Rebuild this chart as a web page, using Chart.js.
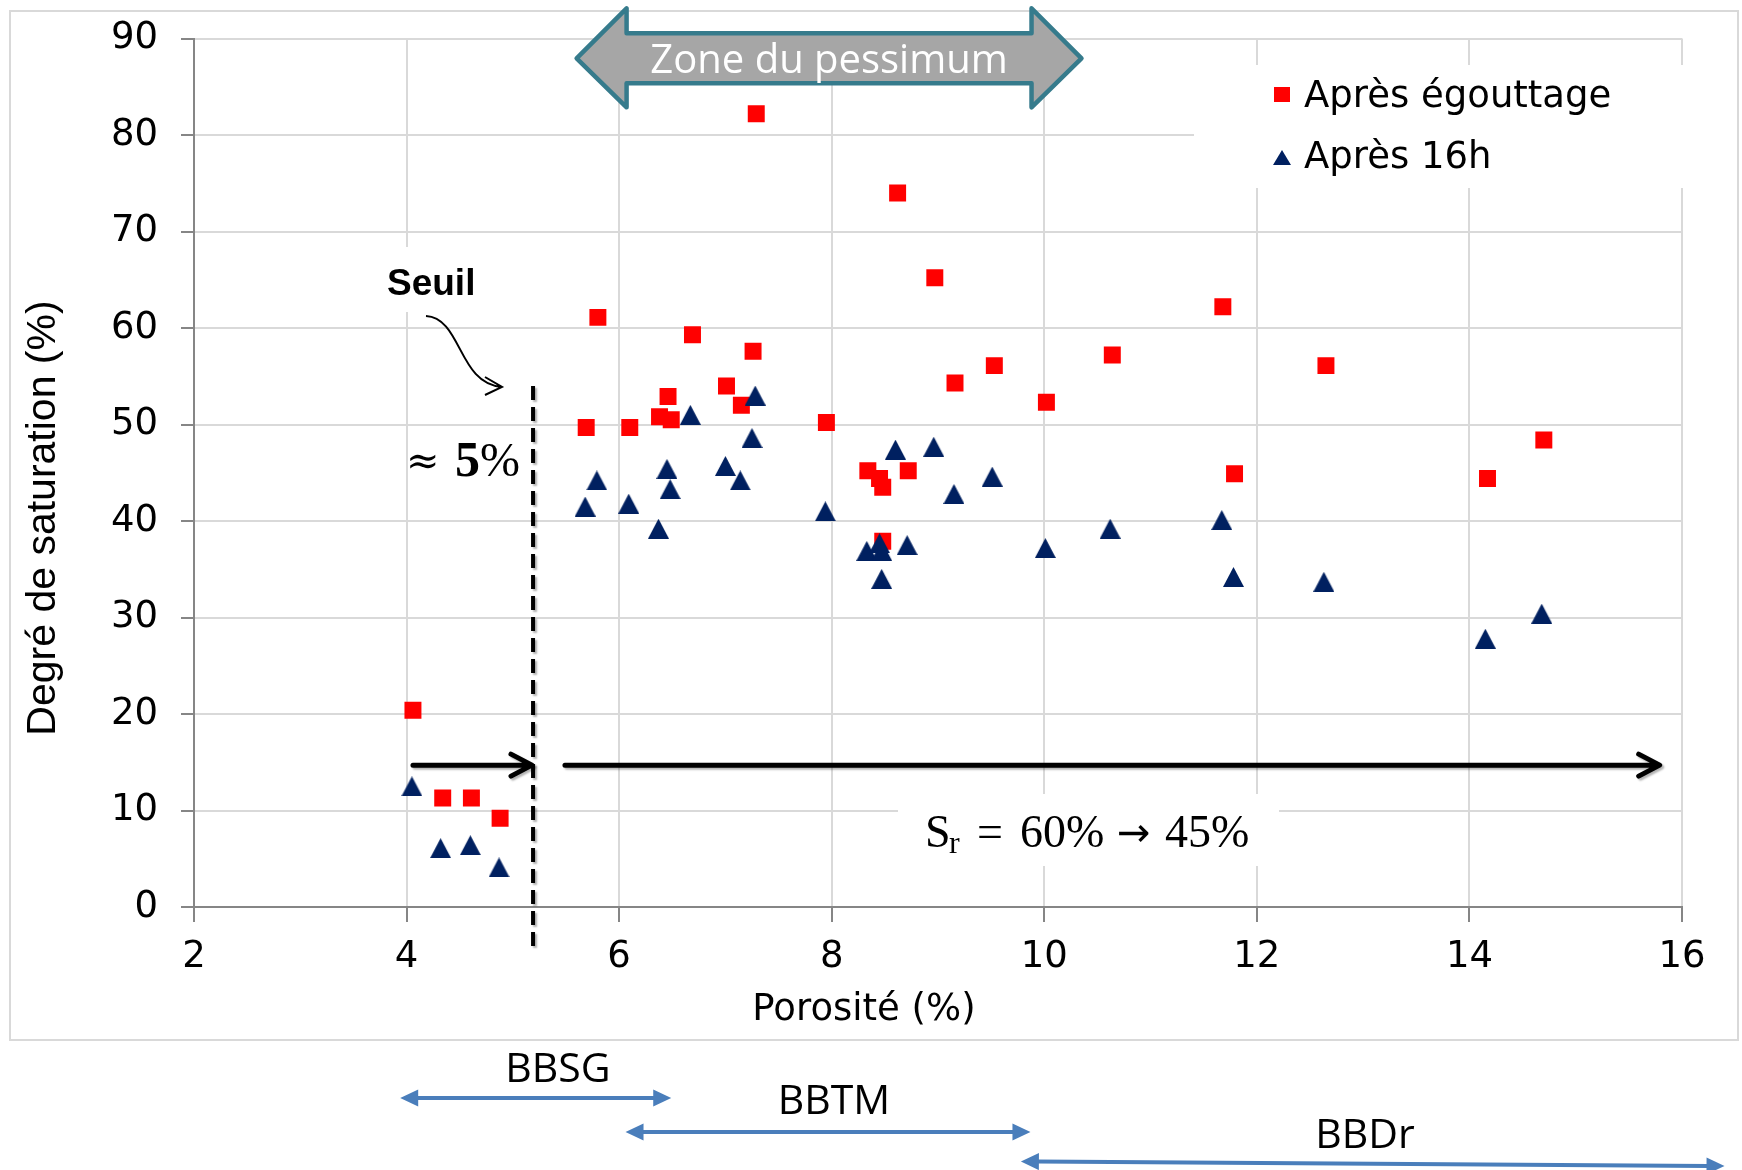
<!DOCTYPE html>
<html>
<head>
<meta charset="utf-8">
<script src="https://cdn.jsdelivr.net/npm/chart.js@4/dist/chart.umd.min.js"></script>
<style>
  html, body { margin: 0; padding: 0; background: #fff; }
  canvas { display: block; }
</style>
</head>
<body>
<canvas id="chart" width="1742" height="1170"></canvas>
<script>
// Après égouttage (red squares)
const porositeEgouttage = [4.06, 4.34, 4.61, 4.88, 5.69, 5.80, 6.10, 6.38, 6.46, 6.49, 6.69, 7.01, 7.15, 7.26, 7.29, 7.95,
  8.34, 8.45, 8.48, 8.48, 8.62, 8.72, 8.97, 9.16, 9.53, 10.02, 10.64, 11.68, 11.79, 12.65, 14.17, 14.70];
const saturationEgouttage = [20.4, 11.3, 11.3, 9.2, 49.7, 61.1, 49.7, 50.8, 52.9, 50.5, 59.3, 54.0, 52.0, 57.6, 82.2, 50.2,
  45.2, 44.4, 43.5, 37.9, 74.0, 45.2, 65.2, 54.3, 56.1, 52.3, 57.2, 62.2, 44.9, 56.1, 44.4, 48.4];

// Après 16h (navy triangles)
const porosite16h = [4.05, 4.32, 4.60, 4.87, 5.68, 5.79, 6.09, 6.37, 6.45, 6.48, 6.67, 7.00, 7.14, 7.25, 7.28, 7.94,
  8.33, 8.45, 8.47, 8.47, 8.60, 8.71, 8.96, 9.15, 9.51, 10.01, 10.62, 11.67, 11.78, 12.63, 14.15, 14.68];
const saturation16h = [12.5, 6.1, 6.4, 4.1, 41.5, 44.2, 41.8, 39.2, 45.4, 43.3, 51.0, 45.7, 44.2, 48.6, 53.0, 41.0,
  36.9, 37.7, 36.9, 34.0, 47.4, 37.5, 47.7, 42.8, 44.6, 37.2, 39.2, 40.1, 34.2, 33.7, 27.8, 30.4];

const seriesLabels = ['Après égouttage', 'Après 16h'];

// annotations, in porosity / saturation units
const seuil = 5.19;
const seuilLine = [54, -4.2];
const arrowLevel = 14.7;
const arrowsSr = [[4.06, 5.18], [5.49, 15.79]];
const zonePessimum = [5.6, 6.07, 9.88, 10.35];
const familles = [
  { label: 'BBSG', from: 3.94, to: 6.49 },
  { label: 'BBTM', from: 6.06, to: 9.87 },
  { label: 'BBDr', from: 9.78, to: 16.4 },
];

const RED = '#ff0000';
const NAVY = '#002060';
const GRID = '#d9d9d9';
const AXIS = '#868686';

const toPoints = (xs, ys) => xs.map((x, i) => ({ x, y: ys[i] }));

// Excel-like triangle, centred on its bounding box
function triangleImage(w, h) {
  const c = document.createElement('canvas');
  c.width = w;
  c.height = h;
  const g = c.getContext('2d');
  g.fillStyle = NAVY;
  g.beginPath();
  g.moveTo(w / 2, 0);
  g.lineTo(w, h);
  g.lineTo(0, h);
  g.closePath();
  g.fill();
  return c;
}
const triangle = triangleImage(21, 20);
const triangleSmall = triangleImage(18, 15);

function text(ctx, str, x, y, font, color, align) {
  ctx.font = font;
  ctx.fillStyle = color || '#000';
  ctx.textAlign = align || 'left';
  ctx.textBaseline = 'alphabetic';
  ctx.fillText(str, x, y);
}

function blueRange(ctx, xa, ya, xb, yb) {
  const len = Math.hypot(xb - xa, yb - ya);
  ctx.save();
  ctx.translate(xa, ya);
  ctx.rotate(Math.atan2(yb - ya, xb - xa));
  ctx.fillStyle = '#4a7ebb';
  ctx.fillRect(16, -2, len - 32, 4);
  ctx.beginPath();
  ctx.moveTo(0, 0); ctx.lineTo(18, -8.5); ctx.lineTo(18, 8.5); ctx.closePath();
  ctx.moveTo(len, 0); ctx.lineTo(len - 18, -8.5); ctx.lineTo(len - 18, 8.5); ctx.closePath();
  ctx.fill();
  ctx.restore();
}

const decorations = {
  id: 'decorations',
  beforeDraw(chart) {
    const { ctx } = chart;
    ctx.save();
    ctx.fillStyle = '#fff';
    ctx.fillRect(0, 0, chart.width, chart.height);
    ctx.strokeStyle = GRID;
    ctx.lineWidth = 2;
    ctx.strokeRect(10, 11, 1728, 1029);
    ctx.restore();
  },
  beforeDatasetsDraw(chart) {
    // white text boxes hiding the grid
    const { ctx } = chart;
    ctx.save();
    ctx.fillStyle = '#fff';
    ctx.fillRect(1194, 65, 506, 123); // legend
    ctx.fillRect(372, 247, 116, 65); // Seuil
    ctx.fillRect(898, 794, 381, 72); // Sr
    ctx.restore();
  },
  afterDraw(chart) {
    const { ctx } = chart;
    const x = chart.scales.x;
    const y = chart.scales.y;
    ctx.save();

    // axis titles
    text(ctx, 'Porosité (%)', 864, 1020, '37px "DejaVu Sans"', '#000', 'center');
    ctx.save();
    ctx.translate(55, 518);
    ctx.rotate(-Math.PI / 2);
    text(ctx, 'Degré de saturation (%)', 0, 0, '41px "Liberation Sans"', '#000', 'center');
    ctx.restore();

    // legend
    ctx.fillStyle = RED;
    ctx.fillRect(1274, 87, 16, 15);
    ctx.drawImage(triangleSmall, 1273, 150);
    text(ctx, seriesLabels[0], 1304, 107, '37px "DejaVu Sans"');
    text(ctx, seriesLabels[1], 1304, 168, '37px "DejaVu Sans"');

    // threshold line
    const xs = x.getPixelForValue(seuil);
    ctx.save();
    ctx.shadowColor = 'rgba(0,0,0,0.3)';
    ctx.shadowOffsetX = 2;
    ctx.shadowOffsetY = 2;
    ctx.shadowBlur = 2;
    ctx.strokeStyle = '#000';
    ctx.lineWidth = 4;
    ctx.setLineDash([14, 7]);
    ctx.beginPath();
    ctx.moveTo(xs, y.getPixelForValue(seuilLine[0]));
    ctx.lineTo(xs, y.getPixelForValue(seuilLine[1]));
    ctx.stroke();
    ctx.setLineDash([]);

    // horizontal arrows
    const ya = y.getPixelForValue(arrowLevel);
    ctx.lineWidth = 5;
    ctx.lineCap = 'round';
    ctx.lineJoin = 'round';
    arrowsSr.forEach(([from, to]) => {
      const x1 = x.getPixelForValue(from);
      const x2 = x.getPixelForValue(to);
      ctx.beginPath();
      ctx.moveTo(x1, ya);
      ctx.lineTo(x2 - 2, ya);
      ctx.moveTo(x2 - 21, ya - 11);
      ctx.lineTo(x2, ya);
      ctx.lineTo(x2 - 21, ya + 11);
      ctx.stroke();
    });
    ctx.restore();

    // Seuil label with curved arrow
    text(ctx, 'Seuil', 387, 295, 'bold 37px "Liberation Sans"');
    ctx.strokeStyle = '#000';
    ctx.lineWidth = 2;
    ctx.beginPath();
    ctx.moveTo(426, 316);
    ctx.bezierCurveTo(462, 318, 458, 384, 502, 387);
    ctx.moveTo(485, 377);
    ctx.lineTo(502, 387);
    ctx.lineTo(485, 395);
    ctx.stroke();

    // ≈ 5%
    text(ctx, '≈', 406, 474, '40px "DejaVu Serif"');
    text(ctx, '5', 455, 476, 'bold 50px "Liberation Serif"');
    text(ctx, '%', 480, 476, '48px "Liberation Serif"');

    // Sr = 60% → 45%
    const serif = '46px "Liberation Serif"';
    text(ctx, 'S', 925, 847, serif);
    text(ctx, 'r', 949, 853, '32px "Liberation Serif"');
    text(ctx, '=', 977, 847, serif);
    text(ctx, '60%', 1020, 847, serif);
    text(ctx, '→', 1117, 846, '40px "DejaVu Sans"');
    text(ctx, '45%', 1165, 847, serif);

    // Zone du pessimum
    const [t1, n1, n2, t2] = zonePessimum.map((v) => x.getPixelForValue(v));
    ctx.beginPath();
    ctx.moveTo(t1, 58.3);
    ctx.lineTo(n1, 8.3);
    ctx.lineTo(n1, 33.3);
    ctx.lineTo(n2, 33.3);
    ctx.lineTo(n2, 8.3);
    ctx.lineTo(t2, 58.3);
    ctx.lineTo(n2, 107.3);
    ctx.lineTo(n2, 83.3);
    ctx.lineTo(n1, 83.3);
    ctx.lineTo(n1, 107.3);
    ctx.closePath();
    ctx.fillStyle = '#a6a6a6';
    ctx.fill();
    ctx.strokeStyle = '#367b8c';
    ctx.lineWidth = 4.5;
    ctx.lineJoin = 'round';
    ctx.stroke();
    text(ctx, 'Zone du pessimum', (t1 + t2) / 2, 73, '40px "Open Sans"', '#fff', 'center');

    // asphalt families below the chart
    const rows = [[1098, 1098], [1132, 1132], [1161.5, 1166]];
    familles.forEach((f, i) => {
      blueRange(ctx, x.getPixelForValue(f.from), rows[i][0], x.getPixelForValue(f.to), rows[i][1]);
    });
    text(ctx, familles[0].label, 558, 1082, '41px "Open Sans"', '#000', 'center');
    text(ctx, familles[1].label, 834, 1114, '41px "Open Sans"', '#000', 'center');
    text(ctx, familles[2].label, 1365, 1148, '41px "Open Sans"', '#000', 'center');

    ctx.restore();
  },
};

new Chart(document.getElementById('chart'), {
  type: 'scatter',
  data: {
    datasets: [
      {
        label: seriesLabels[1],
        data: toPoints(porosite16h, saturation16h),
        pointStyle: triangle,
        order: 1,
      },
      {
        label: seriesLabels[0],
        data: toPoints(porositeEgouttage, saturationEgouttage),
        pointStyle: 'rect',
        pointRadius: 12,
        pointBackgroundColor: RED,
        pointBorderWidth: 0,
        order: 2,
      },
    ],
  },
  options: {
    responsive: false,
    animation: false,
    devicePixelRatio: 1,
    layout: { padding: { left: 0, top: 38.5, right: 60, bottom: 0 } },
    plugins: {
      legend: { display: false },
      tooltip: { enabled: false },
    },
    scales: {
      x: {
        type: 'linear',
        min: 2,
        max: 16,
        afterFit(scale) { scale.height = 263; },
        ticks: {
          stepSize: 2,
          padding: 13,
          color: '#000',
          font: { family: 'DejaVu Sans', size: 37 },
        },
        grid: { color: GRID, lineWidth: 2, tickColor: AXIS, tickWidth: 2, tickLength: 15 },
        border: { color: AXIS, width: 2 },
      },
      y: {
        type: 'linear',
        min: 0,
        max: 90,
        afterFit(scale) {
          scale.width = 194;
          scale.paddingTop = 0; // let layout.padding set the plot top
          scale.paddingBottom = 0;
        },
        ticks: {
          stepSize: 10,
          padding: 23,
          color: '#000',
          font: { family: 'DejaVu Sans', size: 37 },
        },
        grid: { color: GRID, lineWidth: 2, tickColor: AXIS, tickWidth: 2, tickLength: 13 },
        border: { color: AXIS, width: 2 },
      },
    },
  },
  plugins: [decorations],
});
</script>
</body>
</html>
